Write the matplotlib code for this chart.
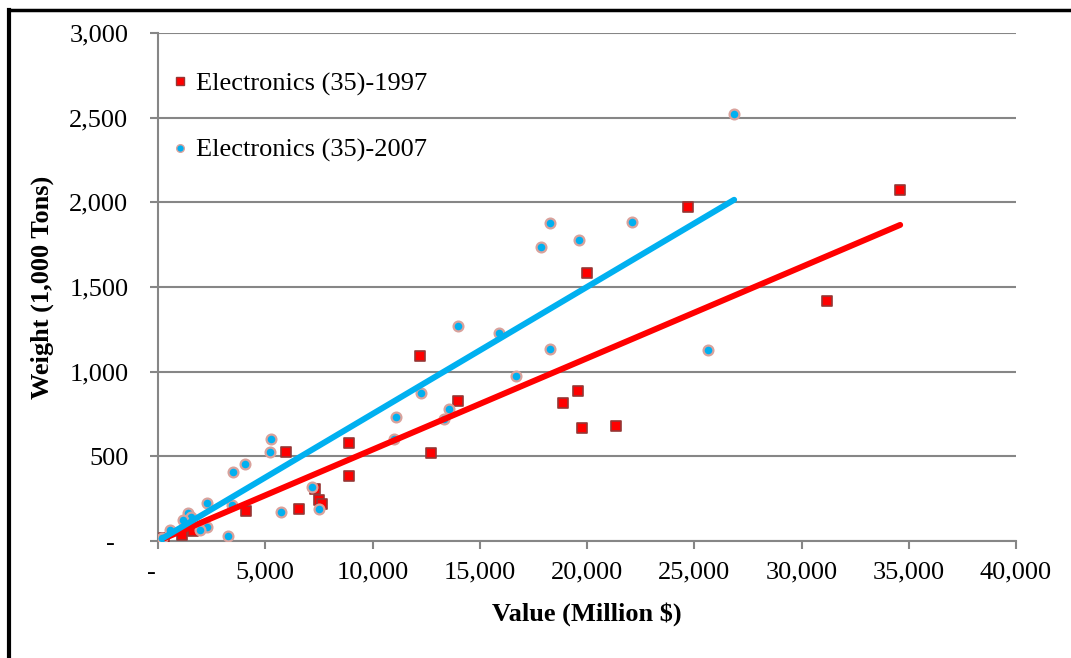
import numpy as np
import matplotlib
matplotlib.use("Agg")
import matplotlib.pyplot as plt
from matplotlib.lines import Line2D
from matplotlib.ticker import FuncFormatter

# Electronics (35): value (million $) vs weight (1,000 tons)
val_1997 = [34600, 31200, 24720, 20010, 21360, 19775, 19590, 18890, 13990, 12220,
            12730, 8910, 8910, 7310, 7510, 7660, 6580, 5980, 4090, 1105, 1630, 280]
wt_1997 = [2070, 1417, 1972, 1580, 679, 665, 886, 815, 827, 1095,
           520, 579, 384, 307, 240, 220, 187, 527, 179, 35, 61, 18]

val_2007 = [26860, 25650, 22110, 19650, 18280, 17860, 18280, 15900, 13990, 16700,
            13570, 13340, 12250, 11100, 11000, 5260, 5220, 7200, 7520, 5720,
            4070, 3500, 2270, 3250, 3430, 2270, 1960, 1410, 1560, 1180, 560, 170]
wt_2007 = [2521, 1128, 1884, 1777, 1876, 1734, 1134, 1228, 1270, 974,
           779, 720, 876, 734, 600, 602, 524, 317, 189, 169,
           456, 406, 226, 31, 213, 85, 65, 163, 144, 124, 65, 16]

lab_1997 = "Electronics (35)-1997"
lab_2007 = "Electronics (35)-2007"

red = "#FF0000"
blue = "#00B0F0"
gray = "#868686"

plt.rcParams['font.family'] = ['Liberation Serif', 'DejaVu Serif']

fig = plt.figure(figsize=(10.71, 6.58), dpi=100)
ax = fig.add_axes([158/1071, 1-541/658, (1016-158)/1071, (541-33)/658])

ax.scatter(val_1997, wt_1997, s=50, marker='s', color=red, edgecolors='#953735',
           linewidths=1.2, zorder=3)
ax.scatter(val_2007, wt_2007, s=50, marker='o', color=blue, edgecolors='#D9A29C',
           linewidths=1.6, zorder=3)

# linear trendlines, intercept set to 0, over each series' range
for xs, ys, c in [(val_1997, wt_1997, red), (val_2007, wt_2007, blue)]:
    xs = np.array(xs, float); ys = np.array(ys, float)
    m = (xs * ys).sum() / (xs * xs).sum()
    xx = np.array([xs.min(), xs.max()])
    ax.plot(xx, m*xx, color=c, lw=4.3, solid_capstyle='round', zorder=4)

ax.set_xlim(0, 40000)
ax.set_ylim(0, 3000)
ax.set_xticks(np.arange(0, 40001, 5000))
ax.set_yticks(np.arange(0, 3001, 500))
fmt = FuncFormatter(lambda v, p: "-  " if v == 0 else f"{int(v):,}")
ax.xaxis.set_major_formatter(fmt)
ax.yaxis.set_major_formatter(fmt)

ax.grid(axis='y', color=gray, lw=1.5)
ax.set_axisbelow(True)
for s in ['top', 'right']:
    ax.spines[s].set_visible(False)
for s in ['left', 'bottom']:
    ax.spines[s].set_color(gray)
    ax.spines[s].set_linewidth(1.5)
ax.tick_params(direction='out', length=5.8, width=1.5, color=gray, labelsize=19)
ax.tick_params(axis='y', pad=15.5)
ax.tick_params(axis='x', pad=9)

ax.set_xlabel("Value (Million $)", fontsize=19, fontweight='bold', labelpad=13)
ax.set_ylabel("Weight (1,000 Tons)", fontsize=19, fontweight='bold', labelpad=11)

handles = [Line2D([], [], ls='', marker='s', ms=6, color=red, mec='#953735', mew=1),
           Line2D([], [], ls='', marker='o', ms=5.5, color=blue, mec='#D9A29C', mew=1)]
ax.legend(handles, [lab_1997, lab_2007], loc='upper left', bbox_to_anchor=(-0.005, 0.955),
          frameon=False, fontsize=19, handlelength=0.8, handletextpad=0.22,
          labelspacing=1.62, borderaxespad=0.2)

# outer black frame
fig.add_artist(Line2D([9/1071, 9/1071], [0, 1-10/658], color='black', lw=3,
                      transform=fig.transFigure))
fig.add_artist(Line2D([9/1071, 1], [1-10/658, 1-10/658], color='black', lw=2.5,
                      transform=fig.transFigure))

fig.savefig("out.png", dpi=100)
